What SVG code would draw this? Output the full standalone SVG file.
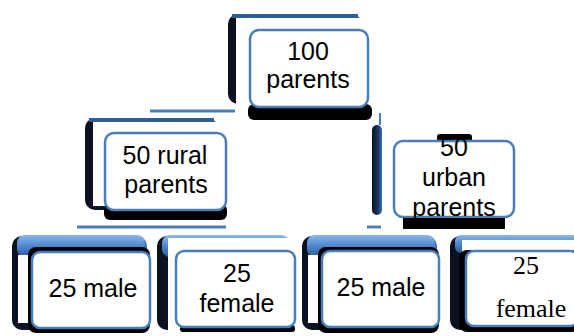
<svg xmlns="http://www.w3.org/2000/svg" width="574" height="336" viewBox="0 0 574 336">
  <defs>
    <linearGradient id="sg" x1="0" y1="0" x2="0" y2="1">
      <stop offset="0" stop-color="#8bb8ec"/>
      <stop offset="0.5" stop-color="#4f86cc"/>
      <stop offset="1" stop-color="#2b5a9a"/>
    </linearGradient>
    <linearGradient id="lg" x1="0" y1="0" x2="1" y2="0">
      <stop offset="0" stop-color="#0a0f1c"/>
      <stop offset="0.6" stop-color="#1b3560"/>
      <stop offset="1" stop-color="#3f6fae"/>
    </linearGradient>
  </defs>
  <style>
    .box { fill: #ffffff; stroke: #4a7ebb; stroke-width: 2.5; }
    .blk { fill: #000000; }
    .wht { fill: #ffffff; }
    .top { fill: url(#sg); }
    .edge { fill: url(#lg); }
    .t { font-family: "Liberation Sans", Arial, sans-serif; font-size: 25px; fill: #000; text-anchor: middle; }
    .ts { font-family: "Liberation Serif", "Times New Roman", serif; font-size: 26px; fill: #000; text-anchor: middle; }
    .con { stroke: #4a7ebb; stroke-width: 3; fill: none; }
  </style>
  <rect width="574" height="336" fill="#ffffff"/>

  <g id="connectors">
    <line class="con" x1="150" y1="111" x2="235" y2="111"/>
    <line class="con" x1="77" y1="227" x2="226" y2="227"/>
    <line class="con" x1="367" y1="227" x2="381" y2="227"/>
    <line class="con" x1="380" y1="113" x2="380" y2="125" style="stroke-width:2"/>
  </g>

  <g id="node-100-parents">
    <rect class="edge" x="228" y="14" width="134" height="90" rx="10"/>
    <rect x="232" y="14" width="126" height="4" fill="#2f5f9c"/>
    <rect class="wht" x="236" y="18" width="132" height="86"/>
    <rect class="blk" x="248" y="104" width="124" height="16" rx="6"/>
    <rect class="box" x="250" y="30" width="118" height="77" rx="9"/>
    <text class="t" x="308" y="60">100</text>
    <text class="t" x="308" y="88">parents</text>
  </g>

  <g id="node-50-rural">
    <rect class="edge" x="85" y="118" width="133" height="92" rx="10"/>
    <rect x="89" y="118" width="125" height="4" fill="#2f5f9c"/>
    <rect class="wht" x="93" y="122" width="135" height="84"/>
    <rect class="blk" x="104" y="204" width="123" height="16" rx="6"/>
    <rect class="box" x="105" y="133" width="121" height="77" rx="9"/>
    <text class="t" x="165" y="164">50 rural</text>
    <text class="t" x="166" y="193">parents</text>
  </g>

  <g id="node-50-urban">
    <rect class="edge" x="372" y="125" width="10" height="90" rx="5"/>
    <rect class="blk" x="437" y="134" width="35" height="10" rx="3"/>
    <rect class="box" x="394" y="141" width="120" height="76" rx="9"/>
    <text class="t" x="454" y="156">50</text>
    <text class="t" x="454" y="186">urban</text>
    <text class="t" x="454" y="216">parents</text>
    <rect class="blk" x="403" y="218" width="102" height="11"/>
  </g>

  <g id="node-25-male-rural">
    <rect class="edge" x="12" y="236" width="135" height="94" rx="10"/>
    <rect class="top" x="17" y="235" width="128" height="22" rx="8"/>
    <rect class="wht" x="18" y="255" width="15" height="68"/>
    <rect class="blk" x="28" y="247" width="122" height="86" rx="8"/>
    <rect class="box" x="32" y="252" width="118" height="76" rx="8"/>
    <text class="t" x="93" y="297">25 male</text>
  </g>

  <g id="node-25-female-rural">
    <rect class="edge" x="157" y="236" width="134" height="94" rx="10"/>
    <rect class="top" x="162" y="235" width="127" height="22" rx="8"/>
    <rect class="wht" x="168" y="238" width="127" height="95"/>
    <rect class="blk" x="180" y="325" width="115" height="7" rx="3"/>
    <rect class="box" x="176" y="251" width="119" height="76" rx="8"/>
    <text class="t" x="237" y="282">25</text>
    <text class="t" x="237" y="312">female</text>
  </g>

  <g id="node-25-male-urban">
    <rect class="edge" x="302" y="236" width="135" height="94" rx="10"/>
    <rect class="top" x="307" y="235" width="128" height="22" rx="8"/>
    <rect class="wht" x="308" y="255" width="15" height="68"/>
    <rect class="blk" x="318" y="247" width="121" height="86" rx="8"/>
    <rect class="box" x="322" y="251" width="117" height="76" rx="8"/>
    <text class="t" x="381" y="296">25 male</text>
  </g>

  <g id="node-25-female-urban">
    <rect class="edge" x="450" y="236" width="130" height="94" rx="10"/>
    <rect class="top" x="455" y="235" width="125" height="18" rx="6"/>
    <rect class="wht" x="462" y="240" width="120" height="12"/>
    <rect class="blk" x="459" y="250" width="120" height="82" rx="8"/>
    <rect class="box" x="466" y="251" width="112" height="75" rx="8"/>
    <text class="ts" x="526" y="274">25</text>
    <text class="ts" x="531" y="317">female</text>
  </g>
</svg>
